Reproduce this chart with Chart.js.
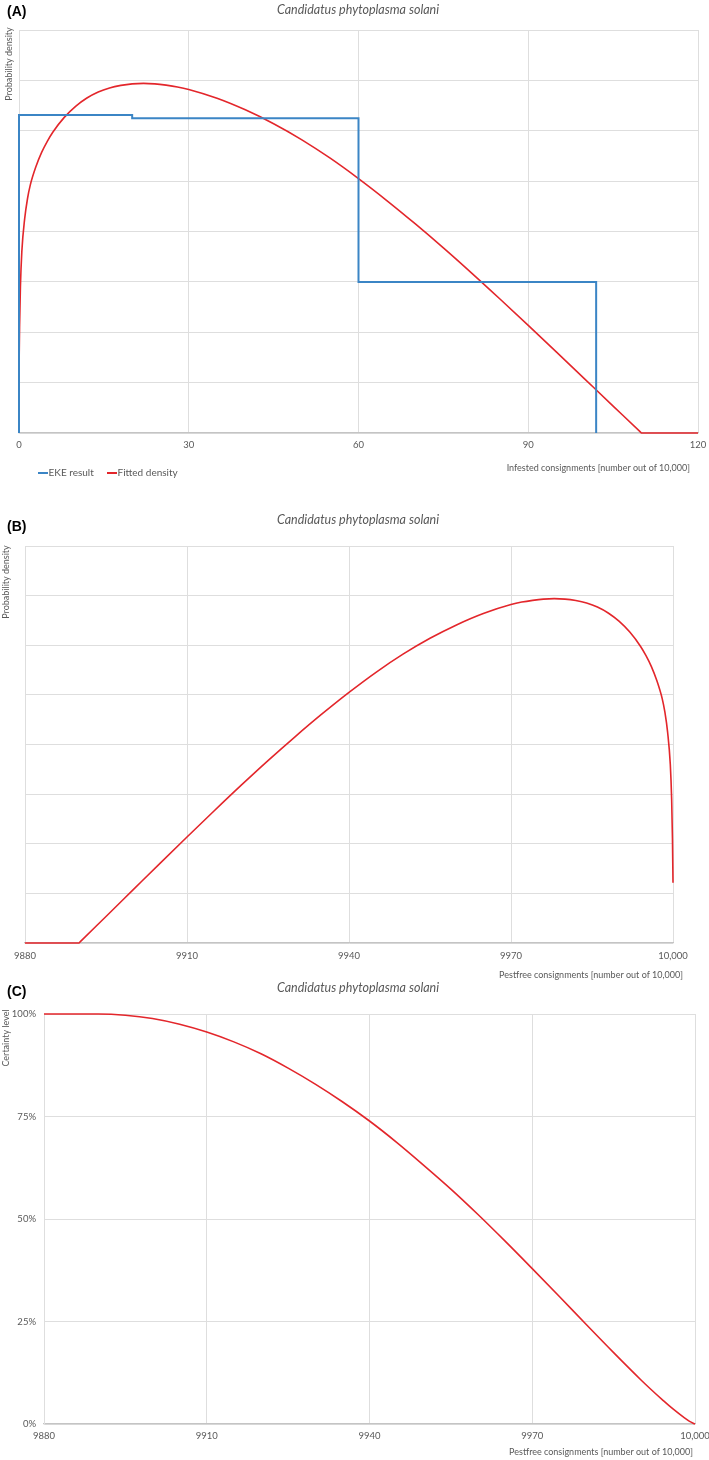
<!DOCTYPE html>
<html>
<head>
<meta charset="utf-8">
<script src="https://cdn.jsdelivr.net/npm/chart.js@4.4.1/dist/chart.umd.min.js"></script>
<style>
  html, body { margin: 0; padding: 0; background: #ffffff; }
  body { width: 709px; height: 1460px; position: relative; overflow: hidden; }
  .panel { position: absolute; left: 0; width: 709px; }
  .panel canvas { display: block; }
</style>
</head>
<body>
<div class="panel" style="top:0px;height:490px"><canvas id="chartA" width="709" height="490"></canvas></div>
<div class="panel" style="top:490px;height:490px"><canvas id="chartB" width="709" height="490"></canvas></div>
<div class="panel" style="top:980px;height:480px"><canvas id="chartC" width="709" height="480"></canvas></div>
<script>
// ---------------- DATA ----------------
// Panel A: infested consignments (number out of 10,000)
const ekeX = [0, 0, 20, 20, 60, 60, 102, 102];
const ekeY = [0, 0.012625, 0.012625, 0.0125, 0.0125, 0.006, 0.006, 0];
const fitAX = [0, 0.1, 0.25, 0.5, 1, 1.5, 2, 3, 4, 5, 6, 8, 10, 12, 14, 16, 18, 20, 22, 24, 26, 28, 30, 35, 40, 45, 50, 55, 60, 65, 70, 75, 80, 85, 90, 95, 100, 105, 109.8, 110, 120];
const fitAY = [0.00243, 0.0042, 0.0058, 0.0072, 0.0085, 0.0093, 0.00985, 0.01058, 0.01114, 0.01158, 0.01195, 0.01253, 0.01297, 0.0133, 0.01354, 0.0137, 0.0138, 0.01386, 0.01388, 0.01386, 0.01381, 0.01374, 0.01364, 0.01329, 0.01283, 0.01228, 0.01164, 0.01091, 0.0101, 0.00923, 0.00831, 0.00735, 0.00635, 0.00532, 0.00427, 0.00321, 0.00214, 0.00107, 0.000043, 0, 0];
const xTicksA = ['0', '30', '60', '90', '120'];

// Panel B: pest-free consignments density
const fitBX = [9880, 9890, 9890.2, 9895, 9900, 9905, 9910, 9915, 9920, 9925, 9930, 9935, 9940, 9945, 9950, 9955, 9960, 9965, 9970, 9972, 9974, 9976, 9978, 9980, 9982, 9984, 9986, 9988, 9990, 9992, 9994, 9995, 9996, 9997, 9998, 9998.5, 9999, 9999.5, 9999.75, 9999.9, 10000];
const fitBY = [0, 0, 0.000043, 0.00107, 0.00214, 0.00321, 0.00427, 0.00532, 0.00635, 0.00735, 0.00831, 0.00923, 0.0101, 0.01091, 0.01164, 0.01228, 0.01283, 0.01329, 0.01364, 0.01374, 0.01381, 0.01386, 0.01388, 0.01386, 0.0138, 0.0137, 0.01354, 0.0133, 0.01297, 0.01253, 0.01195, 0.01158, 0.01114, 0.01058, 0.00985, 0.0093, 0.0085, 0.0072, 0.0058, 0.0042, 0.00243];
const xTicksB = ['9880', '9910', '9940', '9970', '10,000'];

// Panel C: certainty level (%)
const certX = [9880, 9890, 9895, 9900, 9905, 9910, 9915, 9920, 9925, 9930, 9935, 9940, 9945, 9950, 9955, 9960, 9965, 9970, 9975, 9980, 9985, 9990, 9992, 9994, 9996, 9998, 9999, 10000];
const certY = [100, 100, 99.7, 98.9, 97.5, 95.6, 93.2, 90.3, 86.8, 82.9, 78.6, 73.9, 68.7, 63.1, 57.3, 51.1, 44.6, 37.9, 31.1, 24.2, 17.4, 10.8, 8.3, 5.9, 3.6, 1.55, 0.65, 0];
const yTicksC = ['0%', '25%', '50%', '75%', '100%'];

const titleText = 'Candidatus phytoplasma solani';
const legendLabels = ['EKE result', 'Fitted density'];

// ---------------- STYLE ----------------
const FONT = 'Lato, "Open Sans", "DejaVu Sans", sans-serif';
const TXT = '#595959';
const GRID = '#dedede';
const AXIS = '#c4c4c4';
const RED = '#e3262b';
const BLUE = '#3b85c5';

function pts(xs, ys) { return xs.map((x, i) => ({ x: x, y: ys[i] })); }

const annotPlugin = {
  id: 'annot',
  afterDraw(chart, args, opts) {
    const ctx = chart.ctx;
    (opts.items || []).forEach(it => {
      ctx.save();
      ctx.font = it.font;
      ctx.fillStyle = it.color || TXT;
      ctx.textAlign = it.align || 'left';
      ctx.textBaseline = 'middle';
      if (it.rotate) {
        ctx.translate(it.x, it.y);
        ctx.rotate(-Math.PI / 2);
        ctx.fillText(it.text, 0, 0);
      } else {
        ctx.fillText(it.text, it.x, it.y);
      }
      ctx.restore();
    });
    (opts.legend || []).forEach(l => {
      ctx.save();
      ctx.strokeStyle = l.color;
      ctx.lineWidth = 2;
      ctx.beginPath();
      ctx.moveTo(l.x, l.y);
      ctx.lineTo(l.x + 10, l.y);
      ctx.stroke();
      ctx.font = '10px ' + FONT;
      ctx.fillStyle = TXT;
      ctx.textAlign = 'left';
      ctx.textBaseline = 'middle';
      ctx.fillText(l.text, l.x + 10.5, l.y);
      ctx.restore();
    });
  }
};

function baseOptions(p) {
  return {
    responsive: false,
    animation: false,
    layout: { padding: { top: p.top, right: p.right, left: 0, bottom: 0 } },
    plugins: {
      legend: { display: false },
      tooltip: { enabled: false },
      title: { display: false },
      annot: { items: p.items, legend: p.legend || [] }
    },
    elements: { point: { radius: 0 }, line: { borderCapStyle: 'butt' } },
    scales: {
      x: {
        type: 'linear',
        min: p.xmin, max: p.xmax,
        afterBuildTicks: s => { s.ticks = p.xTickVals.map(v => ({ value: v })); },
        afterFit: s => { s.height = p.xAxisH; s.paddingLeft = 0; s.paddingRight = 0; },
        ticks: {
          padding: p.xTickPad,
          color: TXT,
          font: { family: FONT, size: 9.5 },
          maxRotation: 0,
          autoSkip: false,
          callback: (v) => p.xTickLabels[p.xTickVals.indexOf(v)]
        },
        grid: { color: GRID, drawTicks: false, lineWidth: 1 },
        border: { color: AXIS, width: 1.2 }
      },
      y: {
        type: 'linear',
        min: p.ymin, max: p.ymax,
        afterFit: s => { s.width = p.yAxisW; s.paddingTop = 0; s.paddingBottom = 0; },
        ticks: {
          display: p.yTicksShow,
          stepSize: p.ystep,
          padding: 8,
          color: TXT,
          font: { family: FONT, size: 9.5 },
          callback: (v) => p.yTickLabels ? p.yTickLabels[Math.round(v / p.ystep)] : ''
        },
        grid: { color: GRID, drawTicks: false, lineWidth: 1 },
        border: { color: GRID, width: 1 }
      }
    }
  };
}

// Panel A
const optA = baseOptions({
  top: 30, right: 11, xAxisH: 57, yAxisW: 19, xTickPad: 6,
  xmin: 0, xmax: 120, xTickVals: [0, 30, 60, 90, 120], xTickLabels: xTicksA,
  ymin: 0, ymax: 0.016, ystep: 0.002, yTicksShow: false,
  items: [
    { text: '(A)', x: 7, y: 12, font: 'bold 14px "Liberation Sans", Arial, sans-serif', color: '#000' },
    { text: titleText, x: 358, y: 10, font: 'italic 12.5px ' + FONT, align: 'center' },
    { text: 'Probability density', x: 9, y: 64, font: '9px ' + FONT, align: 'center', rotate: true },
    { text: 'Infested consignments [number out of 10,000]', x: 690, y: 468, font: '9px ' + FONT, align: 'right' }
  ],
  legend: [
    { text: legendLabels[0], x: 38, y: 473, color: BLUE },
    { text: legendLabels[1], x: 107, y: 473, color: RED }
  ]
});
new Chart(document.getElementById('chartA'), {
  type: 'line',
  data: {
    datasets: [
      { label: legendLabels[0], data: pts(ekeX, ekeY), borderColor: BLUE, borderWidth: 2, tension: 0, clip: 4 },
      { label: legendLabels[1], data: pts(fitAX, fitAY), borderColor: RED, borderWidth: 1.6, cubicInterpolationMode: 'monotone', clip: 4 }
    ]
  },
  options: optA,
  plugins: [annotPlugin]
});

// Panel B
const optB = baseOptions({
  top: 56, right: 36, xAxisH: 37, yAxisW: 25, xTickPad: 7,
  xmin: 9880, xmax: 10000, xTickVals: [9880, 9910, 9940, 9970, 10000], xTickLabels: xTicksB,
  ymin: 0, ymax: 0.016, ystep: 0.002, yTicksShow: false,
  items: [
    { text: '(B)', x: 7, y: 37, font: 'bold 14px "Liberation Sans", Arial, sans-serif', color: '#000' },
    { text: titleText, x: 358, y: 30, font: 'italic 12.5px ' + FONT, align: 'center' },
    { text: 'Probability density', x: 6, y: 92, font: '9px ' + FONT, align: 'center', rotate: true },
    { text: 'Pestfree consignments [number out of 10,000]', x: 683, y: 485, font: '9px ' + FONT, align: 'right' }
  ]
});
new Chart(document.getElementById('chartB'), {
  type: 'line',
  data: {
    datasets: [
      { label: 'Fitted density', data: pts(fitBX, fitBY), borderColor: RED, borderWidth: 1.6, cubicInterpolationMode: 'monotone', clip: 4 }
    ]
  },
  options: optB,
  plugins: [annotPlugin]
});

// Panel C
const optC = baseOptions({
  top: 34, right: 14, xAxisH: 36, yAxisW: 44, xTickPad: 6,
  xmin: 9880, xmax: 10000, xTickVals: [9880, 9910, 9940, 9970, 10000], xTickLabels: xTicksB,
  ymin: 0, ymax: 100, ystep: 25, yTicksShow: true, yTickLabels: yTicksC,
  items: [
    { text: '(C)', x: 7, y: 12, font: 'bold 14px "Liberation Sans", Arial, sans-serif', color: '#000' },
    { text: titleText, x: 358, y: 8, font: 'italic 12.5px ' + FONT, align: 'center' },
    { text: 'Certainty level', x: 6, y: 58, font: '9px ' + FONT, align: 'center', rotate: true },
    { text: 'Pestfree consignments [number out of 10,000]', x: 693, y: 472, font: '9px ' + FONT, align: 'right' }
  ]
});
new Chart(document.getElementById('chartC'), {
  type: 'line',
  data: {
    datasets: [
      { label: 'Certainty', data: pts(certX, certY), borderColor: RED, borderWidth: 1.6, cubicInterpolationMode: 'monotone', clip: 4 }
    ]
  },
  options: optC,
  plugins: [annotPlugin]
});
</script>
</body>
</html>
